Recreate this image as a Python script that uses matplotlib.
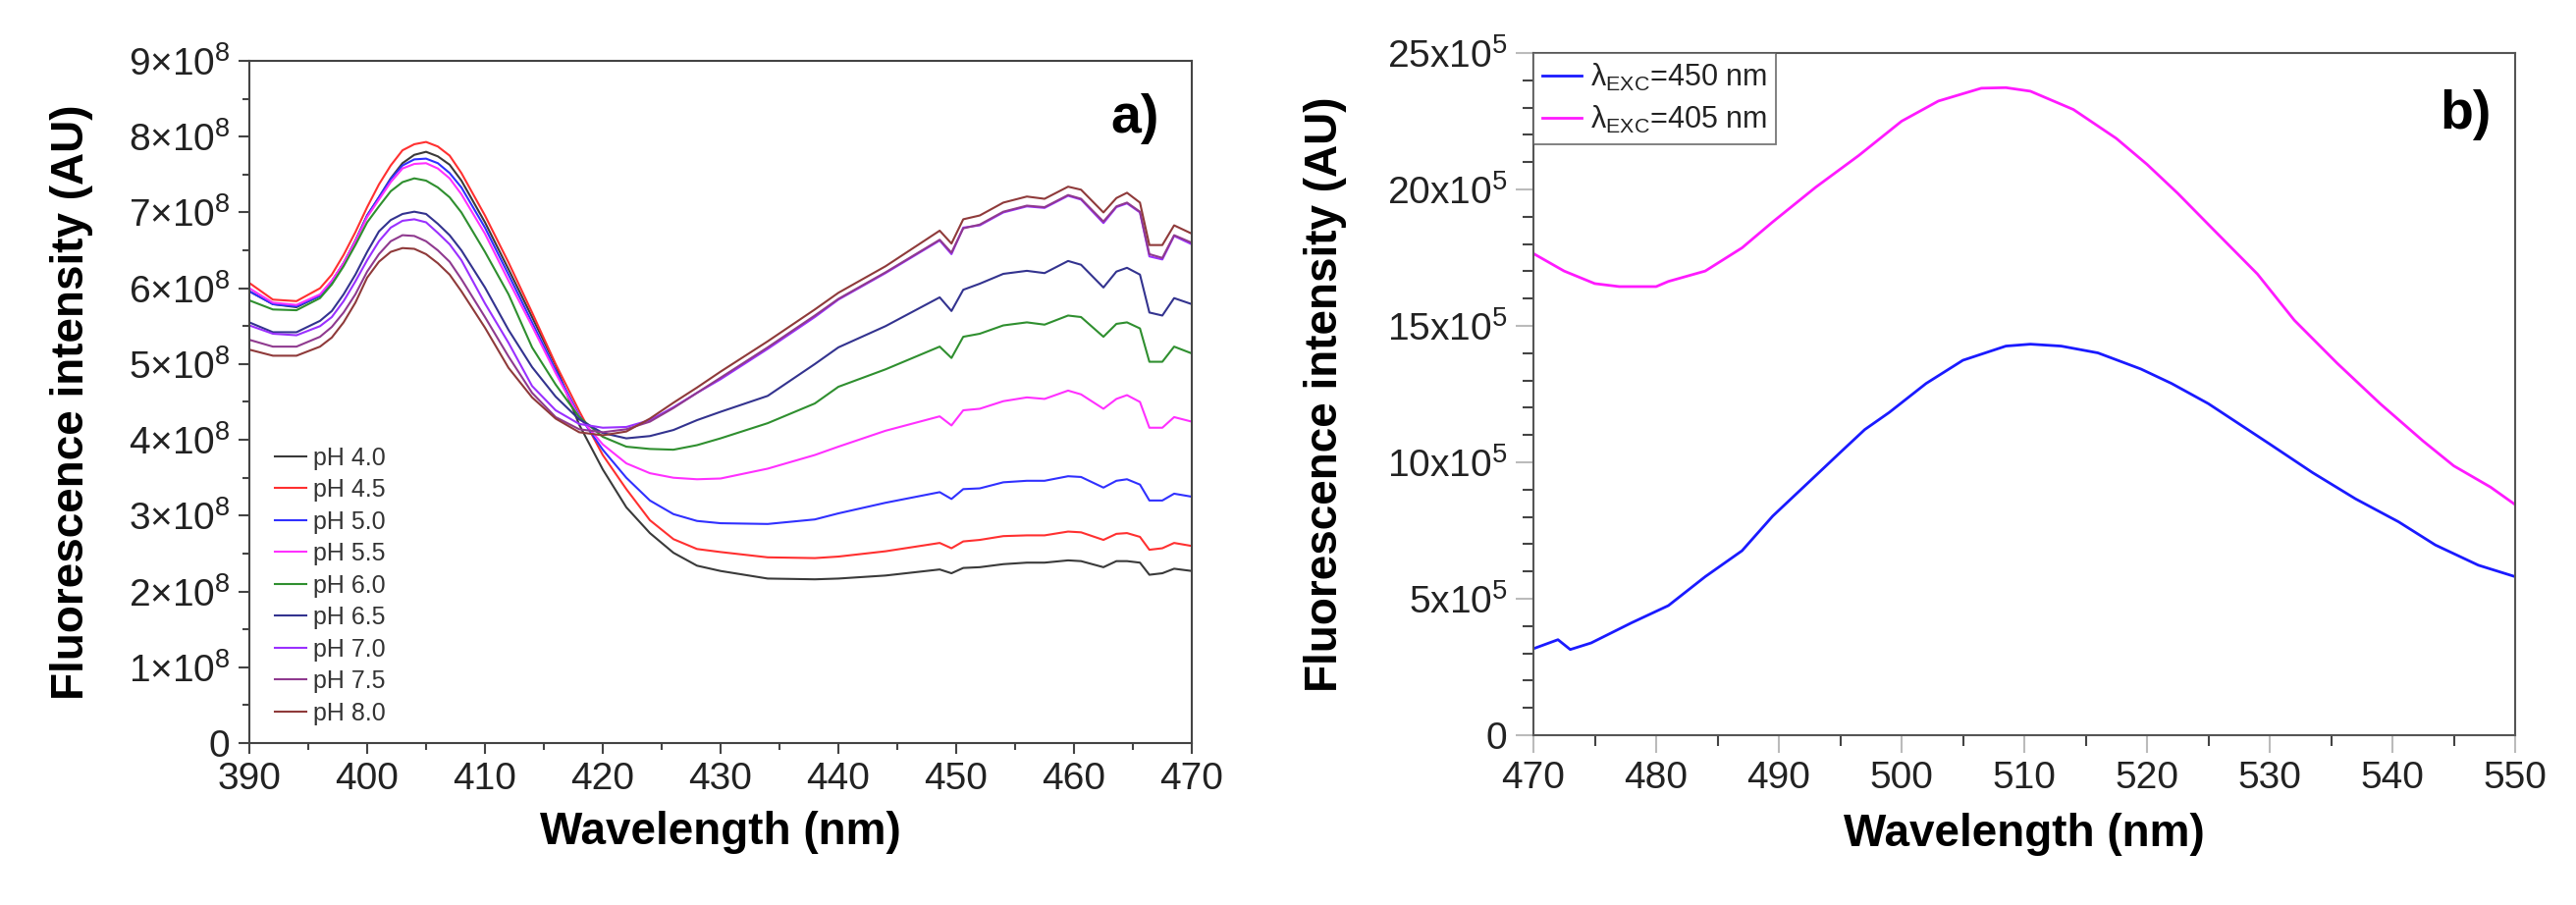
import numpy as np
import matplotlib
matplotlib.use("Agg")
import matplotlib.pyplot as plt
from matplotlib.ticker import MultipleLocator


# ---- panel a): emission spectra at different pH (values in units of 1e8) ----
WL_A = [390, 392, 394, 396, 397, 398, 399, 400, 401, 402, 403, 404, 405, 406, 407, 408,
        410, 412, 414, 416, 418, 420, 422, 424, 426, 428, 430, 434, 438, 440, 444,
        448.6, 449.6, 450.6, 452, 454, 456, 457.5, 459.5, 460.6, 462.5, 463.6, 464.5,
        465.6, 466.4, 467.5, 468.5, 470]

PH40 = [5.96, 5.79, 5.75, 5.90, 6.09, 6.33, 6.63, 6.96, 7.20, 7.45, 7.65, 7.76, 7.80, 7.74, 7.63, 7.42,
        6.87, 6.25, 5.62, 4.98, 4.20, 3.61, 3.11, 2.77, 2.51, 2.34, 2.27, 2.17, 2.16, 2.17, 2.21,
        2.29, 2.24, 2.31, 2.32, 2.36, 2.38, 2.38, 2.41, 2.40, 2.32, 2.40, 2.40,
        2.38, 2.22, 2.24, 2.30, 2.27]
PH45 = [6.07, 5.85, 5.83, 6.00, 6.18, 6.44, 6.74, 7.07, 7.37, 7.62, 7.82, 7.90, 7.93, 7.87, 7.75, 7.52,
        6.96, 6.34, 5.68, 5.00, 4.38, 3.80, 3.35, 2.94, 2.69, 2.56, 2.52, 2.45, 2.44, 2.46, 2.53,
        2.64, 2.57, 2.66, 2.68, 2.73, 2.74, 2.74, 2.79, 2.78, 2.68, 2.76, 2.77,
        2.72, 2.55, 2.57, 2.64, 2.60]
PH50 = [5.96, 5.79, 5.76, 5.90, 6.09, 6.33, 6.62, 6.96, 7.20, 7.44, 7.62, 7.70, 7.71, 7.65, 7.52, 7.33,
        6.80, 6.18, 5.55, 4.92, 4.32, 3.87, 3.50, 3.20, 3.02, 2.93, 2.90, 2.89, 2.95, 3.03, 3.17,
        3.31, 3.22, 3.35, 3.36, 3.44, 3.46, 3.46, 3.52, 3.51, 3.37, 3.46, 3.48,
        3.41, 3.20, 3.20, 3.29, 3.25]
PH55 = [6.00, 5.81, 5.78, 5.92, 6.10, 6.33, 6.62, 6.94, 7.17, 7.40, 7.58, 7.64, 7.65, 7.58, 7.45, 7.24,
        6.72, 6.10, 5.50, 4.88, 4.30, 3.94, 3.69, 3.56, 3.50, 3.48, 3.49, 3.62, 3.80, 3.91, 4.12,
        4.31, 4.19, 4.39, 4.41, 4.51, 4.56, 4.54, 4.65, 4.60, 4.41, 4.54, 4.59,
        4.50, 4.16, 4.16, 4.30, 4.24]
PH60 = [5.84, 5.72, 5.71, 5.87, 6.05, 6.29, 6.57, 6.87, 7.08, 7.28, 7.40, 7.45, 7.42, 7.33, 7.20, 7.00,
        6.48, 5.92, 5.22, 4.73, 4.30, 4.04, 3.91, 3.88, 3.87, 3.93, 4.02, 4.22, 4.48, 4.70, 4.93,
        5.23, 5.08, 5.36, 5.40, 5.51, 5.55, 5.52, 5.64, 5.62, 5.36, 5.53, 5.55,
        5.47, 5.03, 5.03, 5.23, 5.14]
PH65 = [5.55, 5.42, 5.42, 5.57, 5.70, 5.92, 6.18, 6.48, 6.75, 6.90, 6.98, 7.01, 6.98, 6.85, 6.70, 6.50,
        6.01, 5.45, 4.96, 4.57, 4.27, 4.09, 4.02, 4.05, 4.13, 4.26, 4.37, 4.58, 5.00, 5.22, 5.50,
        5.88, 5.70, 5.98, 6.06, 6.19, 6.23, 6.20, 6.36, 6.31, 6.01, 6.22, 6.27,
        6.18, 5.68, 5.64, 5.87, 5.79]
PH70 = [5.51, 5.40, 5.38, 5.50, 5.62, 5.83, 6.09, 6.37, 6.62, 6.80, 6.89, 6.91, 6.87, 6.73, 6.58, 6.37,
        5.80, 5.28, 4.71, 4.39, 4.21, 4.16, 4.17, 4.26, 4.43, 4.62, 4.80, 5.20, 5.62, 5.85, 6.20,
        6.63, 6.45, 6.80, 6.83, 7.00, 7.08, 7.06, 7.22, 7.17, 6.86, 7.07, 7.12,
        7.00, 6.42, 6.38, 6.69, 6.58]
PH75 = [5.32, 5.23, 5.23, 5.36, 5.49, 5.68, 5.92, 6.22, 6.45, 6.62, 6.70, 6.69, 6.62, 6.50, 6.35, 6.12,
        5.62, 5.10, 4.62, 4.30, 4.14, 4.10, 4.14, 4.24, 4.42, 4.62, 4.82, 5.22, 5.64, 5.86, 6.21,
        6.64, 6.47, 6.79, 6.84, 7.01, 7.09, 7.07, 7.23, 7.18, 6.88, 7.08, 7.13,
        7.01, 6.45, 6.40, 6.70, 6.60]
PH80 = [5.19, 5.11, 5.11, 5.23, 5.35, 5.55, 5.81, 6.14, 6.35, 6.48, 6.53, 6.52, 6.45, 6.33, 6.18, 5.96,
        5.48, 4.95, 4.56, 4.28, 4.10, 4.06, 4.11, 4.28, 4.49, 4.69, 4.90, 5.30, 5.72, 5.94, 6.29,
        6.76, 6.59, 6.91, 6.96, 7.13, 7.21, 7.18, 7.34, 7.30, 7.00, 7.19, 7.26,
        7.13, 6.57, 6.57, 6.83, 6.72]

PH_LABELS = ["pH 4.0", "pH 4.5", "pH 5.0", "pH 5.5", "pH 6.0", "pH 6.5", "pH 7.0", "pH 7.5", "pH 8.0"]
PH_COLORS = ["#3a3a3a", "#ff3030", "#3030ff", "#ff30ff", "#2f8f2f", "#33338f", "#9a30ff", "#8f3a8f", "#8f3a3a"]

YTICKS_A = [0, 1, 2, 3, 4, 5, 6, 7, 8, 9]
YLABELS_A = ["0"] + ["%d×10$^{8}$" % k for k in YTICKS_A[1:]]

# ---- panel b): emission at two excitation wavelengths (values in units of 1e5) ----
WL_B450 = [470, 472, 473, 474.7, 478, 481, 484, 487, 489.5, 492.5, 495, 497, 499, 502, 505,
           508.5, 510.5, 513, 516, 519.5, 522, 525, 527.5, 530, 533.5, 537, 540.5, 543.5, 547, 550]
I450 = [3.17, 3.50, 3.14, 3.38, 4.12, 4.75, 5.81, 6.76, 8.03, 9.30, 10.36, 11.2, 11.83, 12.89, 13.74,
        14.26, 14.33, 14.26, 14.01, 13.42, 12.89, 12.15, 11.41, 10.67, 9.62, 8.66, 7.82, 6.97, 6.23, 5.81]

WL_B405 = [470, 472.5, 475, 477, 480, 481, 484, 487, 489.5, 493, 496.5, 500, 503, 506.5, 508.5,
           510.5, 514, 517.5, 520, 522.5, 525.5, 529, 532, 535.5, 539, 542.5, 545, 548, 550]
I405 = [17.65, 17.01, 16.55, 16.44, 16.44, 16.63, 17.01, 17.86, 18.81, 20.08, 21.24, 22.5, 23.24, 23.71, 23.73,
        23.6, 22.93, 21.87, 20.92, 19.86, 18.49, 16.9, 15.21, 13.63, 12.15, 10.78, 9.87, 9.09, 8.45]

EXC_LABELS = ["λ$_{\\mathregular{EXC}}$=450 nm", "λ$_{\\mathregular{EXC}}$=405 nm"]
EXC_COLORS = ["#1a1aff", "#ff1aff"]

YTICKS_B = [0, 5, 10, 15, 20, 25]
YLABELS_B = ["0"] + ["%dx10$^{5}$" % k for k in YTICKS_B[1:]]


def style_axis(ax, spine_color, major_color, minor_color, major_len, minor_len):
    for s in ax.spines.values():
        s.set_color(spine_color)
        s.set_linewidth(1.5)
    ax.tick_params(which="major", direction="out", length=major_len, width=1.5,
                   color=major_color, labelsize=28, pad=6, labelcolor="#222222")
    ax.tick_params(which="minor", direction="out", length=minor_len, width=1.5,
                   color=minor_color)


def main():
    plt.rcParams["font.family"] = "Liberation Sans"
    plt.rcParams["mathtext.fontset"] = "custom"
    plt.rcParams["mathtext.rm"] = "Liberation Sans"
    plt.rcParams["mathtext.it"] = "Liberation Sans:italic"
    plt.rcParams["mathtext.bf"] = "Liberation Sans:bold"

    fig = plt.figure(figsize=(26.24, 9.22), dpi=100)

    # panel a
    ax = fig.add_axes([254 / 2624, 165 / 922, 960 / 2624, 695 / 922])
    series = [PH40, PH45, PH50, PH55, PH60, PH65, PH70, PH75, PH80]
    for vals, lab, col in zip(series, PH_LABELS, PH_COLORS):
        ax.plot(WL_A, np.array(vals) * 1e8, color=col, lw=1.5, label=lab)
    ax.set_xlim(390, 470)
    ax.set_ylim(0, 9e8)
    ax.xaxis.set_major_locator(MultipleLocator(10))
    ax.xaxis.set_minor_locator(MultipleLocator(5))
    ax.set_yticks(np.array(YTICKS_A) * 1e8)
    ax.set_yticklabels(YLABELS_A)
    ax.yaxis.set_minor_locator(MultipleLocator(0.5e8))
    style_axis(ax, "#444444", "#444444", "#444444", 8, 5)
    ax.set_xlabel("Wavelength (nm)", fontsize=33, fontweight="bold", labelpad=10)
    ax.set_ylabel("Fluorescence intensity (AU)", fontsize=33, fontweight="bold", labelpad=26)
    ax.text(0.94, 0.915, "a)", transform=ax.transAxes, fontsize=40, fontweight="bold",
            ha="center", va="center")
    ax.legend(loc="upper left", bbox_to_anchor=(0.027, 0.435), frameon=False, fontsize=18,
              handlelength=1.3, handletextpad=0.25, labelspacing=0.34, borderpad=0,
              borderaxespad=0, labelcolor="#333333")

    # panel b
    bx = fig.add_axes([1562 / 2624, 173 / 922, 1000 / 2624, 695 / 922])
    bx.plot(WL_B450, np.array(I450) * 1e5, color=EXC_COLORS[0], lw=2.0, label=EXC_LABELS[0])
    bx.plot(WL_B405, np.array(I405) * 1e5, color=EXC_COLORS[1], lw=2.0, label=EXC_LABELS[1])
    bx.set_xlim(470, 550)
    bx.set_ylim(0, 25e5)
    bx.xaxis.set_major_locator(MultipleLocator(10))
    bx.xaxis.set_minor_locator(MultipleLocator(5))
    bx.set_yticks(np.array(YTICKS_B) * 1e5)
    bx.set_yticklabels(YLABELS_B)
    bx.yaxis.set_minor_locator(MultipleLocator(1e5))
    style_axis(bx, "#555555", "#bbbbbb", "#444444", 13, 8)
    bx.set_xlabel("Wavelength (nm)", fontsize=33, fontweight="bold", labelpad=12)
    bx.set_ylabel("Fluorescence intensity (AU)", fontsize=33, fontweight="bold", labelpad=30)
    bx.text(0.95, 0.91, "b)", transform=bx.transAxes, fontsize=40, fontweight="bold",
            ha="center", va="center")
    leg = bx.legend(loc="upper left", bbox_to_anchor=(0, 1), fontsize=22, fancybox=False,
                    handlelength=1.3, handletextpad=0.3, labelspacing=0.35, borderpad=0.3,
                    borderaxespad=0, labelcolor="#222222")
    leg.get_frame().set_edgecolor("#555555")
    leg.get_frame().set_linewidth(1.3)

    fig.savefig("out.png", dpi=100)


if __name__ == "__main__":
    main()
